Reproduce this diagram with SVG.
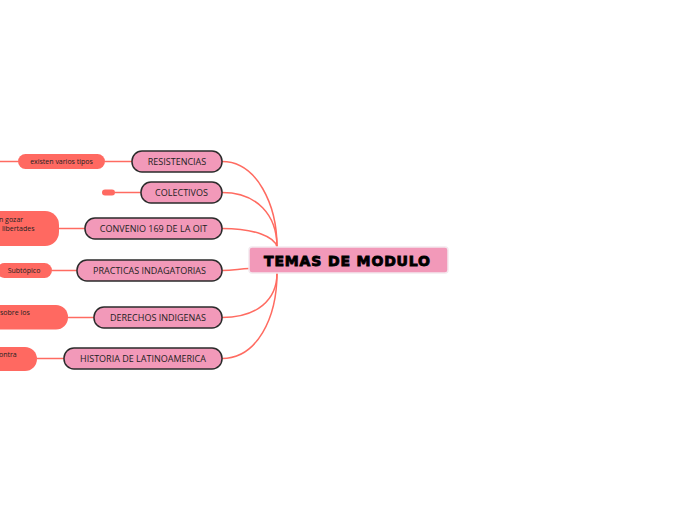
<svg xmlns="http://www.w3.org/2000/svg" width="696" height="520" viewBox="0 0 696 520">
<style>
.bg{fill:#ffffff}
.conn{fill:none;stroke:#ff6b61;stroke-width:1.5}
.sub{fill:#f299b9;stroke:#2b2b2b;stroke-width:1.5}
.subt{font-family:"Open Sans","Liberation Sans",sans-serif;font-size:9px;fill:#222;text-anchor:middle}
.leaf{fill:#ff6961;stroke:none}
.leaft{font-family:"Open Sans","Liberation Sans",sans-serif;font-size:7px;fill:#222}
.main{fill:#f299b9;stroke:#f3e9ee;stroke-width:1.5}
.maint{font-family:"DejaVu Sans","Liberation Sans",sans-serif;font-weight:bold;font-size:14px;fill:#000;stroke:#000;stroke-width:0.9;text-anchor:middle}
</style>
<rect class="bg" x="0" y="0" width="696" height="520"/>
<g id="connectors">
<path class="conn" d="M222 161.5 C257 161.5 277 205 277 247"/>
<path class="conn" d="M222 192.5 C257 192.5 277 215 277 247"/>
<path class="conn" d="M222 228.5 C255 228.5 275 237 277 247"/>
<path class="conn" d="M222 270.5 C234 270.5 240 268.5 249 268.5"/>
<path class="conn" d="M222 317.5 C257 317.5 277 300 277 273"/>
<path class="conn" d="M222 358.5 C257 358.5 277 318 277 273"/>
<line class="conn" x1="105" y1="161.5" x2="132" y2="161.5"/>
<line class="conn" x1="-5" y1="161.5" x2="18" y2="161.5"/>
<line class="conn" x1="115" y1="192.5" x2="141" y2="192.5"/>
<line class="conn" x1="59" y1="228.5" x2="85" y2="228.5"/>
<line class="conn" x1="52" y1="270.5" x2="77" y2="270.5"/>
<line class="conn" x1="68" y1="317.5" x2="94" y2="317.5"/>
<line class="conn" x1="37" y1="358.5" x2="64" y2="358.5"/>
</g>
<g id="main">
<rect class="main" x="249" y="247" width="199" height="26" rx="3"/>
<text class="maint" x="347" y="265.5" textLength="166" lengthAdjust="spacing">TEMAS DE MODULO</text>
</g>
<g id="resistencias">
<rect class="sub" x="132" y="151" width="90" height="21" rx="10"/>
<text class="subt" x="177" y="164.8">RESISTENCIAS</text>
</g>
<g id="colectivos">
<rect class="sub" x="141" y="182" width="81" height="21" rx="10"/>
<text class="subt" x="181.5" y="195.8">COLECTIVOS</text>
</g>
<g id="convenio">
<rect class="sub" x="85" y="218" width="137" height="21" rx="10"/>
<text class="subt" x="153.5" y="231.8">CONVENIO 169 DE LA OIT</text>
</g>
<g id="practicas">
<rect class="sub" x="77" y="260" width="145" height="21" rx="10"/>
<text class="subt" x="149.5" y="273.8">PRACTICAS INDAGATORIAS</text>
</g>
<g id="derechos">
<rect class="sub" x="94" y="307" width="128" height="21" rx="10"/>
<text class="subt" x="158" y="320.8">DERECHOS INDIGENAS</text>
</g>
<g id="historia">
<rect class="sub" x="64" y="348" width="158" height="21" rx="10"/>
<text class="subt" x="143" y="361.8">HISTORIA DE LATINOAMERICA</text>
</g>
<g id="existen">
<rect class="leaf" x="18" y="154" width="87" height="15" rx="7.5"/>
<text class="leaft" x="61.5" y="164" text-anchor="middle">existen varios tipos</text>
</g>
<g id="colectivos-child">
<rect class="leaf" x="102" y="189.5" width="13" height="6" rx="3"/>
</g>
<g id="convenio-child">
<rect class="leaf" x="-20" y="211" width="79" height="35" rx="14"/>
<text class="leaft" x="-1" y="222">n gozar</text>
<text class="leaft" x="0" y="231"> <tspan x="2">libertades</tspan></text>
</g>
<g id="practicas-child">
<rect class="leaf" x="-3" y="263" width="55" height="15" rx="7.5"/>
<text class="leaft" x="24" y="273" text-anchor="middle">Subtópico</text>
</g>
<g id="derechos-child">
<rect class="leaf" x="-20" y="305" width="88" height="24.5" rx="12"/>
<text class="leaft" x="0" y="314.5">sobre los</text>
</g>
<g id="historia-child">
<rect class="leaf" x="-20" y="347" width="57" height="24" rx="12"/>
<text class="leaft" x="-1" y="357">ontra</text>
</g>
</svg>
